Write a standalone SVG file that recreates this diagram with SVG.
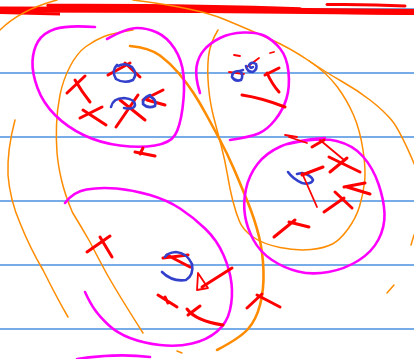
<svg xmlns="http://www.w3.org/2000/svg" width="414" height="359" viewBox="0 0 414 359">
<style>
.bl{stroke:#4a90e2;stroke-width:1.6;fill:none}
.mg{stroke:#ff00ff;stroke-width:2.6;fill:none;stroke-linecap:round;stroke-linejoin:round}
.or{stroke:#ff8c00;stroke-width:1.5;fill:none;stroke-linecap:round}
.ork{stroke:#ff8c00;stroke-width:2.6;fill:none;stroke-linecap:round}
.rd{stroke:#ff0000;stroke-width:3;fill:none;stroke-linecap:round;stroke-linejoin:round}
.rdt{stroke:#ff0000;stroke-width:1.8;fill:none;stroke-linecap:round;stroke-linejoin:round}
.bu{stroke:#3340cc;stroke-width:2.6;fill:none;stroke-linecap:round;stroke-linejoin:round}
</style>
<rect width="414" height="359" fill="#ffffff"/>
<g id="ruled-lines">
<line class="bl" x1="0" y1="9" x2="414" y2="9"/>
<line class="bl" x1="0" y1="73" x2="414" y2="73"/>
<line class="bl" x1="0" y1="137" x2="414" y2="137"/>
<line class="bl" x1="0" y1="201" x2="414" y2="201"/>
<line class="bl" x1="0" y1="265" x2="414" y2="265"/>
<line class="bl" x1="0" y1="329" x2="414" y2="329"/>
</g>
<g id="top-band">
<path d="M0,9.5 Q200,9.5 414,12" stroke="#ff0000" stroke-width="6" fill="none"/>
<path d="M48,5.5 Q200,5 300,9" stroke="#ff0000" stroke-width="3.5" fill="none" stroke-linecap="round"/>
<path d="M0,12.5 L60,14" stroke="#ff0000" stroke-width="3" fill="none"/>
<path d="M327,4.5 Q370,4 405,6" stroke="#ff0000" stroke-width="3" fill="none" stroke-linecap="round"/>
<path d="M340,12 L414,13" stroke="#ff0000" stroke-width="4" fill="none"/>
</g>
<g id="orange-strokes">
<path class="or" d="M0,30 Q20,10 57,0"/>
<path class="or" d="M133,0 Q197,8 223.5,19 Q250,30 270,39 Q290,48 308.5,60.5 Q327,73 337,86.5 Q347,100 353.5,115 Q360,130 363,150 Q366,170 364.5,182.5 Q363,195 359.5,206.5 Q356,218 348,229 Q340,240 332.5,244 Q325,248 311,249.5 Q297,251 280,247.5 Q263,244 253,237 Q243,230 239.5,221.5 Q236,213 233,201.5 Q230,190 227.5,175 Q225,160 221,145 Q217,130 213.5,116.5 Q210,103 208.5,86.5 Q207,70 208.5,56.5 Q210,43 218,30"/>
<path class="or" stroke-width="2" d="M308.5,60.5 Q327,73 342,81.5 Q357,90 370,100 Q383,110 391.5,120 Q400,130 416,168"/>
<path class="ork" d="M130,46 Q150,48 160,55.5 Q170,63 178.5,73 Q187,83 193.5,93 Q200,103 206.5,115 Q213,127 220,140 Q227,153 233.5,168 Q240,183 247.5,201.5 Q255,220 259,236.5 Q263,253 263.5,271.5 Q264,290 260,305 Q256,320 248,329 Q240,338 217,350"/>
<path class="or" d="M133,30 Q113,33 104,36.5 Q95,40 86,46.5 Q77,53 70,66.5 Q63,80 60,95 Q57,110 56.5,125 Q56,140 57,152.5 Q58,165 61.5,180 Q65,195 72.5,212.5 Q82,228 90,242 Q97,256 108,276 Q120,297 143,333"/>
<path class="or" d="M15,120 Q7,150 8,175 Q10,200 20,223 Q30,248 43,270 Q58,300 68,317"/>
<path class="or" d="M414,235 L411,245"/>
<path class="or" d="M387,293 L394,285"/>
<path class="or" d="M177,351 L182,353"/>
</g>
<g id="cluster-top-left">
<path class="mg" stroke-width="3" d="M95,27 Q67,25 55,29 Q43,33 38,41.5 Q33,50 32.5,61.5 Q32,73 37.5,88 Q43,103 55,115 Q67,127 83.5,135 Q100,143 120,145.5 Q140,148 155,145.5 Q170,143 175,135 Q180,127 182.5,108.5 Q185,90 183.5,75 Q182,60 174.5,48.5 Q167,37 157,32.5 Q147,28 137,28 Q127,28 107,39"/>
<path class="rd" d="M67,93 L85,76 M75,80 Q82,92 90,102"/>
<path class="rd" d="M80,118 L102,107 M83,110 L106,125"/>
<path class="rd" d="M108,75 L130,63 M125,63 L140,77"/>
<path class="bu" d="M117,65 Q111,71 116,79 Q124,84 133,80 Q138,74 132,67 Q125,62 118,66"/>
<path class="rd" d="M116,127 L138,95 M120,100 L145,120"/>
<path class="bu" d="M111,107 Q113,98 124,98 Q135,99 135,105 Q134,110 124,108"/>
<path class="rd" d="M143,100 L163,90 M147,100 L165,105"/>
<path class="bu" d="M150,95 Q142,98 143,104 Q148,109 155,106 Q157,100 151,97"/>
<path class="rd" d="M135,152 L155,156 M143,148 L140,154"/>
</g>
<g id="cluster-top-right">
<path class="mg" d="M200,93 Q195,77 196.5,67 Q198,57 204,50 Q210,43 220,38 Q230,33 243.5,32.5 Q257,32 265,36 Q273,40 280,48.5 Q287,57 288.5,72 Q290,87 286.5,98.5 Q283,110 275,120 Q267,130 258.5,133.5 Q250,137 230,140"/>
<path class="rdt" d="M234,55 L240,56 M270,53 L274,52"/>
<path class="rdt" d="M229,72 L244,74 M247,67 L259,58"/>
<path class="bu" d="M239,71 Q232,71 232,77 Q235,82 241,80 Q244,75 240,71 L243,70"/>
<path class="bu" d="M246,66 Q247,72 253,72 Q258,69 256,64 Q251,61 249,65 Q250,69 253,67"/>
<path class="rd" d="M265,75 L279,68 M267,73 Q272,84 279,92"/>
<path class="rd" stroke-width="2.6" d="M242,95 Q262,98 285,107"/>
</g>
<g id="cluster-right">
<path class="mg" d="M288,144 Q320,137 336.5,141 Q353,145 363,156.5 Q373,168 378.5,184 Q384,200 384.5,213.5 Q385,227 378.5,239.5 Q372,252 358.5,260.5 Q345,269 328.5,272 Q312,275 298,271.5 Q284,268 272,260 Q260,252 253.5,240 Q247,228 245,215.5 Q243,203 246,189 Q249,175 257.5,164 Q266,153 280.5,146.5 Q295,140 325,138"/>
<path class="rdt" stroke-width="2.4" d="M285,135 L297,137 M289,137 L307,143"/>
<path class="rd" d="M312,147 L324,140"/>
<path class="rdt" d="M320,140 L344,160"/>
<path class="rd" d="M329,157 L360,172 M330,172 L347,158"/>
<path class="bu" d="M288,172 Q293,179 302,183 Q311,185 313,180 Q311,175 302,173 L297,174"/>
<path class="rd" d="M302,175 L323,167"/>
<path class="rdt" d="M302,173 L317,207"/>
<path class="rd" d="M344,187 L365,183 M347,187 L370,194"/>
<path class="rd" d="M324,212 L344,198 M335,192 L352,208"/>
<path class="rd" d="M274,237 L295,220 M289,222 L309,227"/>
<path class="rd" d="M247,308 L262,294 M257,295 L280,307"/>
</g>
<g id="cluster-bottom-left">
<path class="mg" d="M65,203 Q73,192 86.5,189.5 Q100,187 116.5,188.5 Q133,190 150,195 Q167,200 180,208.5 Q193,217 205,228.5 Q217,240 223.5,255 Q230,270 231.5,283.5 Q233,297 230,310 Q227,323 217,331.5 Q207,340 192,343.5 Q177,347 160,345 Q143,343 130,338 Q117,333 108.5,325 Q100,317 95,310 Q90,303 85,292"/>
<path class="mg" stroke-width="3" d="M77,359 Q117,353 150,357"/>
<path class="rd" d="M87,252 L110,236 M100,237 L112,257"/>
<path class="rd" d="M163,258 L188,255 M167,255 L190,267"/>
<path class="bu" d="M162,272 Q172,282 186,280 Q194,275 192,264 Q187,253 176,252 Q167,253 165,257"/>
<path class="rdt" d="M197,290 L198,273 L208,288 Z"/>
<path class="rd" stroke-width="4" d="M202,287 L232,268"/>
<path class="rd" d="M158,295 L177,307 M165,297 L168,303"/>
<path class="rd" d="M188,315 L200,306 M187,309 Q196,321 223,325"/>
</g>
</svg>
